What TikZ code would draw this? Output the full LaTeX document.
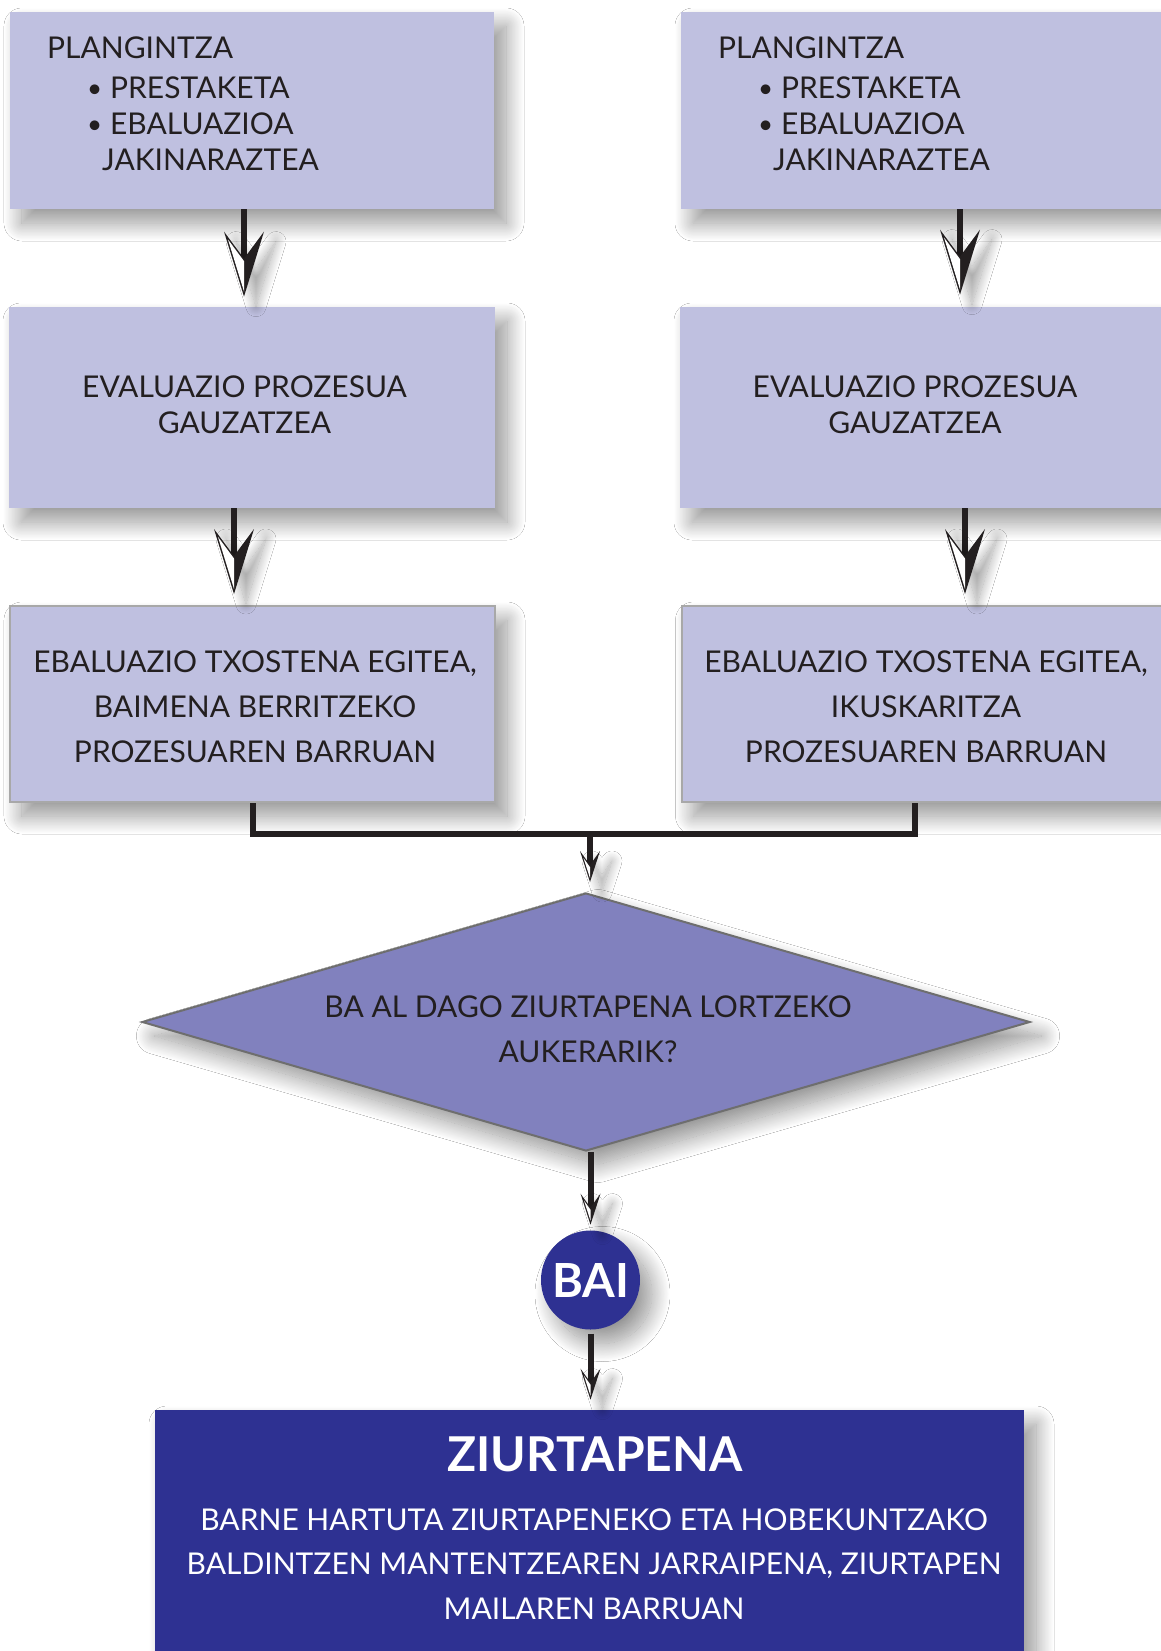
\documentclass[tikz,border=0pt]{standalone}
\usepackage{fontspec}
\setmainfont{Lato}
\usetikzlibrary{shapes.geometric,shadows.blur}
\definecolor{lav}{HTML}{BFC0E0}
\definecolor{dia}{HTML}{8181BE}
\definecolor{diab}{HTML}{6E6E6E}
\definecolor{navy}{HTML}{2E3192}
\definecolor{ink}{HTML}{231F20}
\definecolor{bord}{HTML}{A8A8A8}
\newcommand{\blt}{\makebox[11.5pt][l]{\raisebox{0.5pt}{\fontsize{13}{13}\selectfont •}}}
\begin{document}
\begin{tikzpicture}[x=0.5pt,y=-0.5pt,
  shd/.style={blur shadow={shadow xshift=6pt,shadow yshift=-7pt,shadow blur radius=9pt,shadow blur steps=30,shadow opacity=42}},
  tipshd/.style={blur shadow={shadow xshift=6pt,shadow yshift=-5pt,shadow blur radius=5pt,shadow blur steps=20,shadow opacity=35}},
  lbox/.style={shd, fill=lav, inner sep=0pt},
  txt/.style={text=ink, inner sep=0pt, align=center},
  boxfont/.style={font=\fontsize{15}{#1}\selectfont},
  shaft/.style={draw=ink, line width=3pt, line join=miter},
  bigtip/.pic={
    \fill[ink, tipshd] (0,0) -- (-20,-65) -- (0,-38) -- (20,-65) -- cycle;
    \fill[white] (-16,-57.1) -- (0,-35.5) -- (0,-5.1) -- cycle;
  },
  smalltip/.pic={
    \fill[ink, tipshd] (0,0) -- (-10,-31) -- (0,-17) -- (10,-31) -- cycle;
    \fill[white] (-6.5,-24) -- (0,-14.9) -- (0,-3.9) -- cycle;
  }]
\fill[white] (0,0) rectangle (1161,1651);
\useasboundingbox (0,0) rectangle (1161,1651);
\clip (0,0) rectangle (1161,1651);

% boxes
\node[lbox, minimum width=242pt, minimum height=98.5pt] (A1) at (252,110.5) {};
\node[lbox, minimum width=247pt, minimum height=98.5pt] (B1) at (928,110.5) {};
\node[lbox, minimum width=243pt, minimum height=100.5pt] (A2) at (252,407.5) {};
\node[lbox, minimum width=247.5pt, minimum height=100.5pt] (B2) at (927.5,407.5) {};
\node[lbox, draw=bord, line width=1pt, minimum width=242.5pt, minimum height=98pt] (A3) at (252.5,704) {};
\node[lbox, draw=bord, line width=1pt, minimum width=246.5pt, minimum height=98pt] (B3) at (928,704) {};

% texts in boxes
\node[txt, align=left, anchor=north west, boxfont=18] (tA1) at (46.7,36)
  {PLANGINTZA\\[2pt]\hspace*{20pt}\blt PRESTAKETA\\\hspace*{20pt}\blt EBALUAZIOA\\\hspace*{27.5pt}JAKINARAZTEA};
\node[txt, align=left, anchor=north west, boxfont=18] (tB1) at (717.7,36)
  {PLANGINTZA\\[2pt]\hspace*{20pt}\blt PRESTAKETA\\\hspace*{20pt}\blt EBALUAZIOA\\\hspace*{27.5pt}JAKINARAZTEA};
\node[txt, boxfont=18] (tA2) at (244.5,405) {EVALUAZIO PROZESUA\\GAUZATZEA};
\node[txt, boxfont=18] (tB2) at (915,405) {EVALUAZIO PROZESUA\\GAUZATZEA};
\node[txt, boxfont=22.5] (tA3) at (255,706.7) {EBALUAZIO TXOSTENA EGITEA,\\BAIMENA BERRITZEKO\\PROZESUAREN BARRUAN};
\node[txt, boxfont=22.5] (tB3) at (926,706.7) {EBALUAZIO TXOSTENA EGITEA,\\IKUSKARITZA\\PROZESUAREN BARRUAN};

% diamond
\node[diamond, fill=dia, draw=diab, line width=1pt, minimum width=444pt, minimum height=129pt,
  inner sep=0pt, shd] (D) at (586,1022) {};
\node[txt, boxfont=22.5] (Dt) at (588,1029) {BA AL DAGO ZIURTAPENA LORTZEKO\\AUKERARIK?};

% BAI circle
\node[circle, fill=navy, minimum size=49.5pt, inner sep=0pt, text=white,
  font=\bfseries\fontsize{23.5}{23.5}\selectfont, shd] (BAI) at (590.5,1280) {BAI};

% bottom box
\node[fill=navy, minimum width=434.5pt, minimum height=145pt, inner sep=0pt, shd] (Z) at (589.5,1555) {};
\node[txt, text=white, font=\bfseries\fontsize{24}{24}\selectfont] (Zt) at (595,1454) {ZIURTAPENA};
\node[txt, text=white, boxfont=22.35] (Zb) at (594,1564)
  {BARNE HARTUTA ZIURTAPENEKO ETA HOBEKUNTZAKO\\BALDINTZEN MANTENTZEAREN JARRAIPENA, ZIURTAPEN\\MAILAREN BARRUAN};

% connectors
\coordinate (a1s) at ([xshift=-4pt]A1.south);
\coordinate (a2n) at (a1s |- A2.north);
\draw[shaft, shorten >=21pt] (a1s) -- (a2n);
\pic at ([yshift=5pt]a2n) {bigtip};

\coordinate (b1s) at ([xshift=16pt]B1.south);
\coordinate (b2n) at (b1s |- B2.north);
\draw[shaft, shorten >=22pt] (b1s) -- (b2n);
\pic at ([yshift=6pt]b2n) {bigtip};

\coordinate (a2s) at ([xshift=-9pt]A2.south);
\coordinate (a3n) at (a2s |- A3.north);
\draw[shaft, shorten >=21.5pt] (a2s) -- (a3n);
\pic at ([yshift=5.5pt]a3n) {bigtip};

\coordinate (b2s) at ([xshift=18.75pt]B2.south);
\coordinate (b3n) at (b2s |- B3.north);
\draw[shaft, shorten >=21.5pt] (b2s) -- (b3n);
\pic at ([yshift=5.5pt]b3n) {bigtip};

\coordinate (b3s) at ([xshift=-6.5pt]B3.south);
\coordinate (m) at (590,834);
\draw[shaft] (A3.south) |- (m) -| (b3s);
\coordinate (dn) at (m |- D.north);
\draw[shaft, shorten >=12pt] (m) -- (dn);
\pic at ([yshift=5pt]dn) {smalltip};

\coordinate (ds) at (BAI.north |- D.south);
\draw[shaft, shorten >=10pt] (ds) -- (BAI.north);
\pic at ([yshift=2.75pt]BAI.north) {smalltip};

\coordinate (zn) at (BAI.south |- Z.north);
\draw[shaft, shorten <=2pt, shorten >=12pt] (BAI.south) -- (zn);
\pic at ([yshift=5pt]zn) {smalltip};
\end{tikzpicture}
\end{document}
